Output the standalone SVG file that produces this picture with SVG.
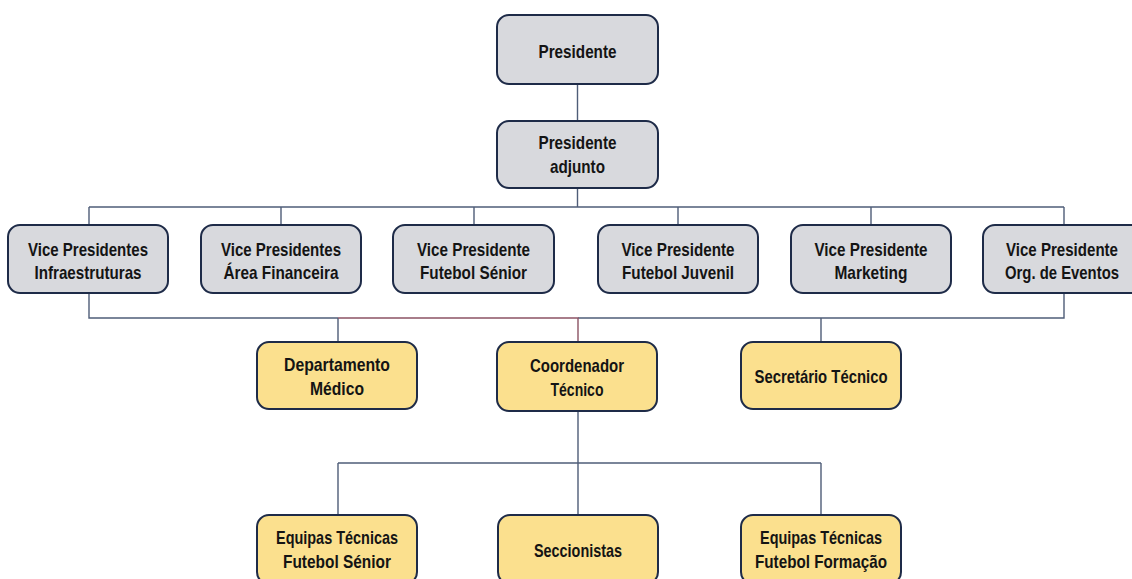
<svg xmlns="http://www.w3.org/2000/svg" width="1132" height="579" viewBox="0 0 1132 579">
<style>
.g{fill:#d8d9dd;stroke:#1e2b48;stroke-width:2}
.y{fill:#fbe08e;stroke:#1e2b48;stroke-width:2}
text{font-family:"Liberation Sans",Arial,sans-serif;font-weight:bold;font-size:19px;fill:#141414;text-anchor:middle}
.c line,.c path{stroke:#4f5d78;stroke-width:1.4;fill:none}
.c .r{stroke:#8c5364}
</style>
<rect width="1132" height="579" fill="#ffffff"/>
<g class="c" id="connectors">
<path d="M577.5 84V121M577.5 188V207M89 207H1064M89 207V225M281 207V225M474 207V225M678 207V225M871 207V225M1064 207V225"/>
<path d="M89 293V318H338M578 318H1064V293M338 318V342M821 318V342"/>
<path class="r" d="M338 318H578V342"/>
<path d="M578 411V515M338 463H821M338 463V515M821 463V515"/>
</g>
<g id="presidente"><rect class="g" x="497" y="15" width="161" height="69" rx="12"/><text x="577.5" y="58" textLength="78" lengthAdjust="spacingAndGlyphs">Presidente</text></g>
<g id="presidente-adjunto"><rect class="g" x="497" y="121" width="161" height="67" rx="12"/><text x="577.5" y="149" textLength="78" lengthAdjust="spacingAndGlyphs">Presidente</text><text x="577.5" y="173" textLength="55" lengthAdjust="spacingAndGlyphs">adjunto</text></g>
<g id="vp-infra"><rect class="g" x="8" y="225" width="160" height="68" rx="12"/><text x="88" y="256" textLength="120" lengthAdjust="spacingAndGlyphs">Vice Presidentes</text><text x="88" y="279" textLength="107" lengthAdjust="spacingAndGlyphs">Infraestruturas</text></g>
<g id="vp-financeira"><rect class="g" x="201" y="225" width="160" height="68" rx="12"/><text x="281" y="256" textLength="120" lengthAdjust="spacingAndGlyphs">Vice Presidentes</text><text x="281" y="279" textLength="115" lengthAdjust="spacingAndGlyphs">Área Financeira</text></g>
<g id="vp-senior"><rect class="g" x="393" y="225" width="161" height="68" rx="12"/><text x="473.5" y="256" textLength="113" lengthAdjust="spacingAndGlyphs">Vice Presidente</text><text x="473.5" y="279" textLength="107" lengthAdjust="spacingAndGlyphs">Futebol Sénior</text></g>
<g id="vp-juvenil"><rect class="g" x="598" y="225" width="160" height="68" rx="12"/><text x="678" y="256" textLength="113" lengthAdjust="spacingAndGlyphs">Vice Presidente</text><text x="678" y="279" textLength="112" lengthAdjust="spacingAndGlyphs">Futebol Juvenil</text></g>
<g id="vp-marketing"><rect class="g" x="791" y="225" width="160" height="68" rx="12"/><text x="871" y="256" textLength="113" lengthAdjust="spacingAndGlyphs">Vice Presidente</text><text x="871" y="279" textLength="73" lengthAdjust="spacingAndGlyphs">Marketing</text></g>
<g id="vp-eventos"><rect class="g" x="983" y="225" width="160" height="68" rx="12"/><text x="1062" y="256" textLength="112" lengthAdjust="spacingAndGlyphs">Vice Presidente</text><text x="1062" y="279" textLength="114" lengthAdjust="spacingAndGlyphs">Org. de Eventos</text></g>
<g id="dep-medico"><rect class="y" x="257" y="342" width="160" height="67" rx="12"/><text x="337" y="371" textLength="106" lengthAdjust="spacingAndGlyphs">Departamento</text><text x="337" y="395" textLength="54" lengthAdjust="spacingAndGlyphs">Médico</text></g>
<g id="coordenador"><rect class="y" x="497" y="342" width="160" height="69" rx="12"/><text x="577" y="372" textLength="94" lengthAdjust="spacingAndGlyphs">Coordenador</text><text x="577" y="396" textLength="53" lengthAdjust="spacingAndGlyphs">Técnico</text></g>
<g id="secretario"><rect class="y" x="741" y="342" width="160" height="67" rx="12"/><text x="821" y="383" textLength="133" lengthAdjust="spacingAndGlyphs">Secretário Técnico</text></g>
<g id="equipas-senior"><rect class="y" x="257" y="515" width="160" height="69" rx="12"/><text x="337" y="544" textLength="122" lengthAdjust="spacingAndGlyphs">Equipas Técnicas</text><text x="337" y="568" textLength="108" lengthAdjust="spacingAndGlyphs">Futebol Sénior</text></g>
<g id="seccionistas"><rect class="y" x="498" y="515" width="160" height="69" rx="12"/><text x="578" y="557" textLength="88" lengthAdjust="spacingAndGlyphs">Seccionistas</text></g>
<g id="equipas-formacao"><rect class="y" x="741" y="515" width="160" height="69" rx="12"/><text x="821" y="544" textLength="122" lengthAdjust="spacingAndGlyphs">Equipas Técnicas</text><text x="821" y="568" textLength="132" lengthAdjust="spacingAndGlyphs">Futebol Formação</text></g>
</svg>
